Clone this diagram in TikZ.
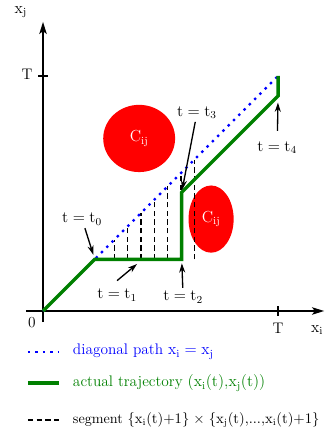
\documentclass[tikz,border=0pt]{standalone}
\usetikzlibrary{arrows.meta,shapes.geometric}
\begin{document}
\begin{tikzpicture}[
    x=17.625pt, y=17.625pt,
    every node/.style={font=\fontsize{11.5}{14}\selectfont, inner sep=2pt},
    axis/.style={line width=1.4pt, -{Stealth[length=9pt, width=5.5pt, inset=2pt]}},
    tick/.style={line width=1.2pt},
    diag/.style={blue, line width=1.8pt, dash pattern=on 1.8pt off 3.8pt},
    traj/.style={green!50!black, line width=2.6pt},
    segment/.style={black, line width=0.9pt, dash pattern=on 4pt off 2.5pt},
    region/.style={ellipse, fill=red, draw=none, text=white, inner sep=0pt},
    callout/.style={line width=1pt, -{Stealth[length=7pt, width=4.5pt]}}
]
    \useasboundingbox (-1.83,-5.19) rectangle (12.0,13.23);

    % forbidden regions
    \node[region, minimum width=53.9pt, minimum height=50.4pt] (cup) at (4.09,7.34) {$\mathrm{C_{ij}}$};
    \node[region, minimum width=33.8pt, minimum height=50.4pt] (clow) at (7.15,3.91) {$\mathrm{C_{ij}}$};

    % axes
    \draw[axis] (0,-0.47) -- (0,12.3);
    \draw[axis] (-0.72,0) -- (11.96,0);
    \draw[tick] (-0.2,10) -- (0.2,10);
    \draw[tick] (10,-0.2) -- (10,0.2);
    \node (xj) at (-0.94,12.72) {$\mathrm{x_j}$};
    \node (Ty) at (-0.68,10.09) {T};
    \node (zero) at (-0.47,-0.51) {0};
    \node (Tx) at (10,-0.72) {T};
    \node (xi) at (11.66,-0.81) {$\mathrm{x_i}$};

    % path corners
    \coordinate (O) at (0,0);
    \coordinate (A) at (2.2,2.2);
    \coordinate (B) at (5.9,2.2);
    \coordinate (C) at (5.9,5.05);
    \coordinate (D) at (10,9.15);
    \coordinate (E) at (10,10);

    \foreach \x in {3.03,3.6,4.17,4.73,5.3,5.87,6.43}
        \draw[segment] (\x,2.2) -- (\x,\x);
    \draw[diag] (O) -- (E);
    \draw[traj] (O) -- (A) -- (B) -- (C) -- (D) -- (E);

    % time labels
    \node (lt0) at (1.66,3.91) {$\mathrm{t = t_0}$};
    \node (lt1) at (3.15,0.68) {$\mathrm{t = t_1}$};
    \node (lt2) at (5.96,0.6) {$\mathrm{t = t_2}$};
    \node (lt3) at (6.55,8.43) {$\mathrm{t = t_3}$};
    \node (lt4) at (9.96,6.94) {$\mathrm{t = t_4}$};
    \coordinate (t1tip) at (4.0,2.0);
    \draw[callout, shorten >=3.5pt] (lt0) -- (A);
    \draw[callout] ([yshift=4pt]lt1.north) -- (t1tip);
    \draw[callout, shorten >=3pt] (lt2) -- (B);
    \draw[callout, shorten >=2pt] (lt3) -- (C);
    \draw[callout, shorten >=5pt, shorten <=6pt] (lt4) -- (D);

    % legend
    \draw[diag] (-0.64,-1.74) -- (0.68,-1.74);
    \node[anchor=west, text=blue] (legdiag) at (1.15,-1.74) {diagonal path $\mathrm{x_i = x_j}$};
    \draw[traj] (-0.64,-3.06) -- (0.68,-3.06);
    \node[anchor=west, text=green!50!black] (legtraj) at (1.15,-3.06) {actual trajectory $\mathrm{(x_i(t){,}x_j(t))}$};
    \draw[segment] (-0.64,-4.64) -- (0.68,-4.64);
    \node[anchor=west, font=\fontsize{10.6}{13}\selectfont] (legseg) at (1.15,-4.64) {segment $\mathrm{\{x_i(t){+}1\}\;{\times}\;\{x_j(t){,}...{,}x_i(t){+}1\}}$};
\end{tikzpicture}
\end{document}
